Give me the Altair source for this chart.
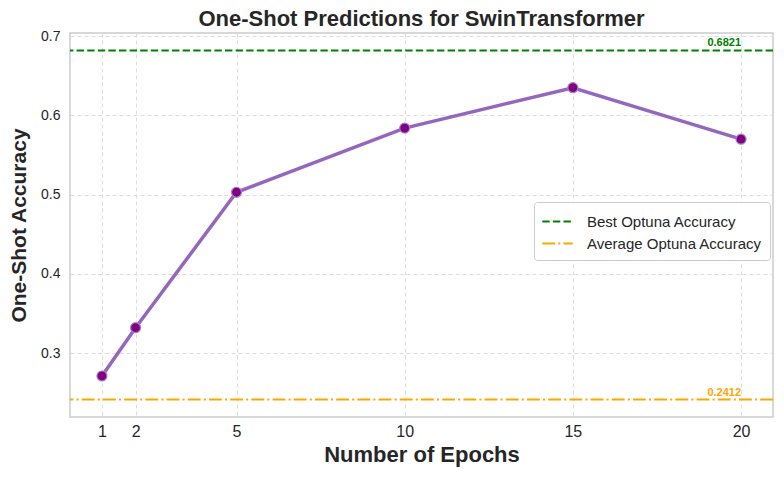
import altair as alt
import pandas as pd

epochs = [1, 2, 5, 10, 15, 20]
accuracy = [0.271, 0.332, 0.503, 0.584, 0.635, 0.570]
ref_names = ["Best Optuna Accuracy", "Average Optuna Accuracy"]
ref_values = [0.6821, 0.2412]
ref_labels = ["0.6821", "0.2412"]
ref_colors = ["#008000", "#FFA500"]
x_ticks = [1, 2, 5, 10, 15, 20]
y_ticks = [0.3, 0.4, 0.5, 0.6, 0.7]
title_text = ["One-Shot Predictions for SwinTransformer"]

df = pd.DataFrame({"epochs": epochs, "acc": accuracy})
ref = pd.DataFrame({"name": ref_names, "value": ref_values, "label": ref_labels,
                    "xpos": [20, 20], "color": ref_colors})
tdf = pd.DataFrame({"t": title_text})

FONT = "Liberation Sans"
W, H = 703, 384
xs = alt.Scale(domain=[0.05, 20.95], nice=False, zero=False)
ys = alt.Scale(domain=[0.2192, 0.7041], nice=False, zero=False)

x_axis = alt.Axis(values=x_ticks, title="Number of Epochs", labelFontSize=16,
                  titleFontSize=22, titleFontWeight="bold", titleColor="#262626",
                  labelColor="#262626", ticks=False, domain=False, labelPadding=6,
                  grid=True, gridDash=[4, 3], gridColor="#dddddd", gridWidth=1,
                  titlePadding=5)
y_axis = alt.Axis(values=y_ticks, format=".1f", title="One-Shot Accuracy",
                  labelFontSize=14, titleFontSize=21, titleFontWeight="bold",
                  titleColor="#262626", labelColor="#262626", ticks=False,
                  domain=False, labelPadding=10, grid=True, gridDash=[4, 3],
                  gridColor="#dddddd", gridWidth=1, titlePadding=11)

base = alt.Chart(df)
line = base.mark_line(color="#9467bd", strokeWidth=3.5).encode(
    x=alt.X("epochs:Q", scale=xs, axis=x_axis),
    y=alt.Y("acc:Q", scale=ys, axis=y_axis),
)
pts = base.mark_point(filled=True, fill="#800080", stroke="#a77fcf",
                      strokeWidth=1.2, size=100, opacity=1).encode(
    x=alt.X("epochs:Q", scale=xs),
    y=alt.Y("acc:Q", scale=ys),
)

rules = alt.Chart(ref).mark_rule(strokeWidth=2).encode(
    y=alt.Y("value:Q", scale=ys),
    color=alt.Color("name:N", scale=alt.Scale(domain=ref_names, range=ref_colors),
                    legend=alt.Legend(title=None, orient="none", legendX=464,
                                      legendY=169, fillColor="white",
                                      strokeColor="#cccccc", cornerRadius=3,
                                      padding=8, labelFontSize=15,
                                      labelColor="#262626",
                                      symbolType="M-1.45,0H1.45",
                                      symbolStrokeWidth=2, symbolSize=441,
                                      symbolOffset=4,
                                      rowPadding=2, labelOffset=18,
                                      labelLimit=400, labelFont=FONT,
                                      offset=0)),
    strokeDash=alt.StrokeDash("name:N", scale=alt.Scale(
        domain=ref_names, range=[[7.4, 3.2], [12.8, 3.2, 2, 3.2]])),
)

texts = alt.Chart(ref).mark_text(align="right", baseline="bottom", dy=-2,
                                 fontWeight="bold", fontSize=11, font=FONT).encode(
    x=alt.X("xpos:Q", scale=xs),
    y=alt.Y("value:Q", scale=ys),
    text="label:N",
    color=alt.Color("color:N", scale=None),
)

title = alt.Chart(tdf).mark_text(align="center", baseline="alphabetic",
                                 fontSize=22, fontWeight="bold", color="#262626",
                                 font=FONT).encode(
    x=alt.value(W / 2), y=alt.value(-7), text="t:N")

chart = alt.layer(line, pts, rules, texts, title).properties(
    width=W, height=H,
    autosize=alt.AutoSizeParams(type="none"),
    padding={"left": 62, "top": 25, "right": 3, "bottom": 59},
).configure(font=FONT).configure_view(stroke="#cccccc", strokeWidth=1.5)

chart.save("out.html", embed_options={"renderer": "svg", "actions": False})
